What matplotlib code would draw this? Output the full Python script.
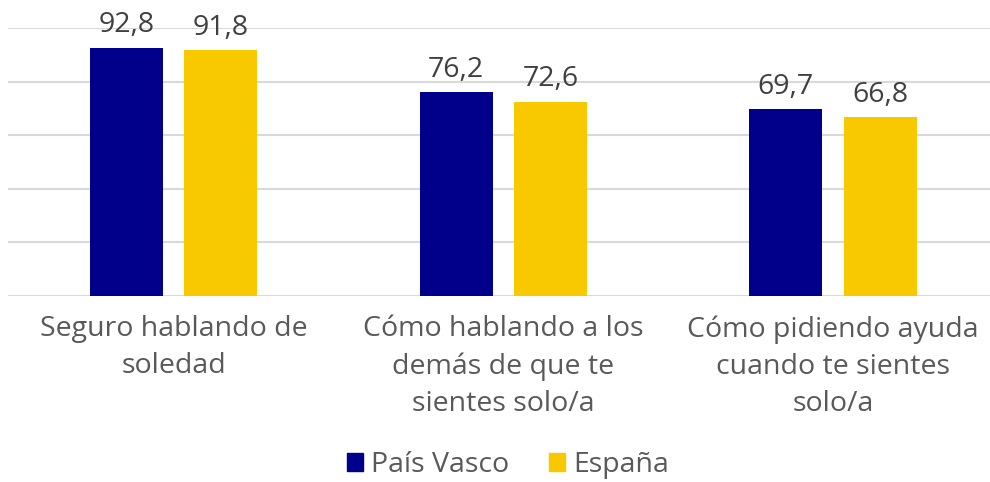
import numpy as np
import matplotlib.pyplot as plt
from matplotlib.patches import Patch

categories = ['Seguro hablando de\nsoledad',
              'Cómo hablando a los\ndemás de que te\nsientes solo/a',
              'Cómo pidiendo ayuda\ncuando te sientes\nsolo/a']
pais_vasco = [92.8, 76.2, 69.7]
espana = [91.8, 72.6, 66.8]
series_names = ['País Vasco', 'España']

blue = '#00008B'
yellow = '#F9C900'

plt.rcParams['font.family'] = ['Open Sans', 'DejaVu Sans']

fig = plt.figure(figsize=(9.9, 4.82), dpi=100)
ax = fig.add_axes([8 / 990, 1 - 296 / 482, 982 / 990, (296 - 28.3) / 482])

x = np.arange(len(categories))
w = 0.222
off = 0.143
b1 = ax.bar(x - off, pais_vasco, w, color=blue, zorder=3)
b2 = ax.bar(x + off, espana, w, color=yellow, zorder=3)

for bars, vals in ((b1, pais_vasco), (b2, espana)):
    for rect, v in zip(bars, vals):
        ax.annotate(f'{v:.1f}'.replace('.', ','),
                    (rect.get_x() + rect.get_width() / 2, rect.get_height()),
                    xytext=(0, 6), textcoords='offset points',
                    ha='center', va='bottom', fontsize=20.5, color='#404040')

ax.set_xlim(-0.502, 2.476)
ax.set_ylim(0, 100)
ax.set_yticks(range(0, 101, 20))
ax.yaxis.grid(True, color='#d9d9d9', linewidth=1.5, zorder=0)
ax.set_yticklabels([])
ax.tick_params(axis='y', length=0)
ax.set_xticks(x)
ax.set_xticklabels(categories, fontsize=20.5, color='#595959', linespacing=1.42)
ax.tick_params(axis='x', length=0, pad=14)
for s in ax.spines.values():
    s.set_visible(False)

handles = [Patch(color=blue), Patch(color=yellow)]
fig.legend(handles, series_names, loc='center', bbox_to_anchor=(508 / 990, 1 - 465 / 482),
           ncol=2, frameon=False, fontsize=20.5, labelcolor='#595959',
           handlelength=0.55, handleheight=0.55, handletextpad=0.3, columnspacing=1.4)

fig.savefig('out.png', dpi=100)
